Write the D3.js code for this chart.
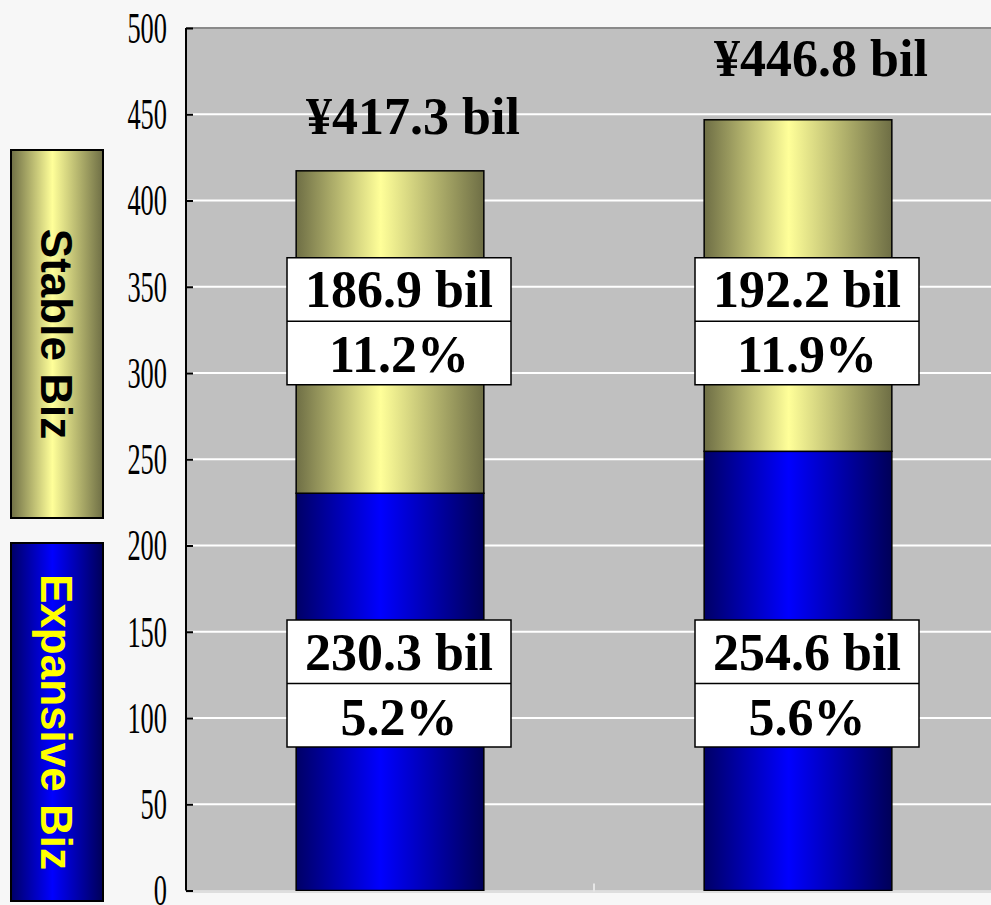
<!DOCTYPE html>
<html>
<head>
<meta charset="utf-8">
<script src="https://cdn.jsdelivr.net/npm/d3@7/dist/d3.min.js"></script>
<style>
  body { margin: 0; background: #f7f7f7; }
  svg { display: block; }
</style>
</head>
<body>
<div id="chart"></div>
<script>
// data
const categories = ["Year 1", "Year 2"];
const expansiveValues = [230.3, 254.6];
const stableValues = [186.9, 192.2];
const totalLabels = ["\u00a5417.3 bil", "\u00a5446.8 bil"];
const expansiveGrowth = ["5.2%", "5.6%"];
const stableGrowth = ["11.2%", "11.9%"];
const yTicks = [0, 50, 100, 150, 200, 250, 300, 350, 400, 450, 500];

const width = 991, height = 905;
const plotLeft = 186, plotRight = 1002;

const svg = d3.select("#chart").append("svg")
  .attr("width", width)
  .attr("height", height);

const defs = svg.append("defs");

function cylinder(id, edgeL, mid, edgeR) {
  const g = defs.append("linearGradient").attr("id", id)
    .attr("x1", "0%").attr("x2", "100%").attr("y1", "0%").attr("y2", "0%");
  g.append("stop").attr("offset", "0%").attr("stop-color", edgeL);
  g.append("stop").attr("offset", "45%").attr("stop-color", mid);
  g.append("stop").attr("offset", "100%").attr("stop-color", edgeR);
}
cylinder("gradStable", "#6e6e45", "#ffff99", "#6e6e45");
cylinder("gradExp", "#000066", "#0000ff", "#000058");

const y = d3.scaleLinear().domain([0, 500]).range([890.5, 28]);
const x = d3.scaleBand().domain(categories).range([plotLeft, plotRight]);
const barW = x.bandwidth() * 0.46;
const cx = c => x(c) + x.bandwidth() / 2;

// plot background
svg.append("rect")
  .attr("x", plotLeft).attr("y", y(500))
  .attr("width", plotRight - plotLeft).attr("height", y(0) - y(500))
  .attr("fill", "#c0c0c0");

// gridlines
svg.append("g")
  .selectAll("line")
  .data(yTicks.filter(t => t > 0 && t < 500))
  .join("line")
  .attr("x1", plotLeft).attr("x2", plotRight)
  .attr("y1", d => y(d)).attr("y2", d => y(d))
  .attr("stroke", "#ffffff").attr("stroke-width", 2);

svg.append("line")
  .attr("x1", plotLeft).attr("x2", plotRight)
  .attr("y1", y(500)).attr("y2", y(500))
  .attr("stroke", "#8a8a8a").attr("stroke-width", 2);

// bars
const rows = categories.map((c, i) => ({ c, exp: expansiveValues[i], st: stableValues[i], i }));

svg.append("g").selectAll("rect")
  .data(rows)
  .join("rect")
  .attr("x", d => cx(d.c) - barW / 2)
  .attr("y", d => y(d.exp))
  .attr("width", barW)
  .attr("height", d => y(0) - y(d.exp))
  .attr("fill", "url(#gradExp)")
  .attr("stroke", "#000").attr("stroke-width", 1.5);

svg.append("g").selectAll("rect")
  .data(rows)
  .join("rect")
  .attr("x", d => cx(d.c) - barW / 2)
  .attr("y", d => y(d.exp + d.st))
  .attr("width", barW)
  .attr("height", d => y(d.exp) - y(d.exp + d.st))
  .attr("fill", "url(#gradStable)")
  .attr("stroke", "#000").attr("stroke-width", 1.5);

// bottom axis line and category divider
svg.append("line")
  .attr("x1", plotLeft).attr("x2", plotRight)
  .attr("y1", y(0) + 1.5).attr("y2", y(0) + 1.5)
  .attr("stroke", "#dedede").attr("stroke-width", 2);
svg.append("line")
  .attr("x1", x(categories[1])).attr("x2", x(categories[1]))
  .attr("y1", y(0) - 7).attr("y2", y(0) + 1)
  .attr("stroke", "#e6e6e6").attr("stroke-width", 2);

// y axis
const yAxis = svg.append("g")
  .attr("transform", `translate(${plotLeft},0)`)
  .call(d3.axisRight(y).tickValues(yTicks).tickSize(7).tickFormat(""));
yAxis.select(".domain").attr("stroke", "#000").attr("stroke-width", 2)
  .attr("d", `M0,${y(500)}V${y(0)}`);
yAxis.selectAll(".tick line").attr("stroke", "#000").attr("stroke-width", 2);

svg.append("g").selectAll("text")
  .data(yTicks)
  .join("text")
  .attr("transform", d => `translate(167,${y(d)}) scale(0.6,1)`)
  .attr("text-anchor", "end")
  .attr("dy", "0.34em")
  .attr("font-family", "Liberation Serif, Times New Roman, serif")
  .attr("font-size", 44)
  .attr("fill", "#000")
  .text(d => d);

// total labels
const totalDy = [37, 44];
svg.append("g").selectAll("text")
  .data(rows)
  .join("text")
  .attr("x", d => cx(d.c) + 23)
  .attr("y", d => y(d.exp + d.st) - totalDy[d.i])
  .attr("text-anchor", "middle")
  .attr("font-family", "Liberation Serif, Times New Roman, serif")
  .attr("font-weight", "bold")
  .attr("font-size", 52)
  .text(d => totalLabels[d.i]);

// value boxes
const boxW = 224, rowH = 63.5, boxShift = 9;
function valueBoxes(centerVal, amounts, pcts) {
  const g = svg.append("g").selectAll("g")
    .data(rows)
    .join("g")
    .attr("transform", d => `translate(${cx(d.c) + boxShift},${y(centerVal)})`);
  g.append("rect")
    .attr("x", -boxW / 2).attr("y", -rowH)
    .attr("width", boxW).attr("height", rowH * 2)
    .attr("fill", "#fff").attr("stroke", "#000").attr("stroke-width", 1.5);
  g.append("line")
    .attr("x1", -boxW / 2).attr("x2", boxW / 2)
    .attr("stroke", "#000").attr("stroke-width", 1.5);
  g.append("text")
    .attr("y", -14)
    .attr("text-anchor", "middle")
    .attr("font-family", "Liberation Serif, Times New Roman, serif")
    .attr("font-weight", "bold").attr("font-size", 52)
    .text(d => amounts[d.i].toFixed(1) + " bil");
  g.append("text")
    .attr("y", 51)
    .attr("text-anchor", "middle")
    .attr("font-family", "Liberation Serif, Times New Roman, serif")
    .attr("font-weight", "bold").attr("font-size", 52)
    .text(d => pcts[d.i]);
}
valueBoxes(330, stableValues, stableGrowth);
valueBoxes(120, expansiveValues, expansiveGrowth);

// legend
const legend = [
  { name: "Stable Biz", fill: "url(#gradStable)", color: "#000", y0: 150, y1: 518 },
  { name: "Expansive Biz", fill: "url(#gradExp)", color: "#ffff00", y0: 543, y1: 901 }
];
const lg = svg.append("g").selectAll("g")
  .data(legend)
  .join("g");
lg.append("rect")
  .attr("x", 11).attr("y", d => d.y0)
  .attr("width", 92).attr("height", d => d.y1 - d.y0)
  .attr("fill", d => d.fill)
  .attr("stroke", "#000").attr("stroke-width", 2);
lg.append("text")
  .attr("transform", d => `translate(57,${(d.y0 + d.y1) / 2}) rotate(90)`)
  .attr("text-anchor", "middle")
  .attr("dy", "0.36em")
  .attr("font-family", "Liberation Sans, Arial, sans-serif")
  .attr("font-weight", "bold")
  .attr("font-size", 44)
  .attr("fill", d => d.color)
  .text(d => d.name);
</script>
</body>
</html>
